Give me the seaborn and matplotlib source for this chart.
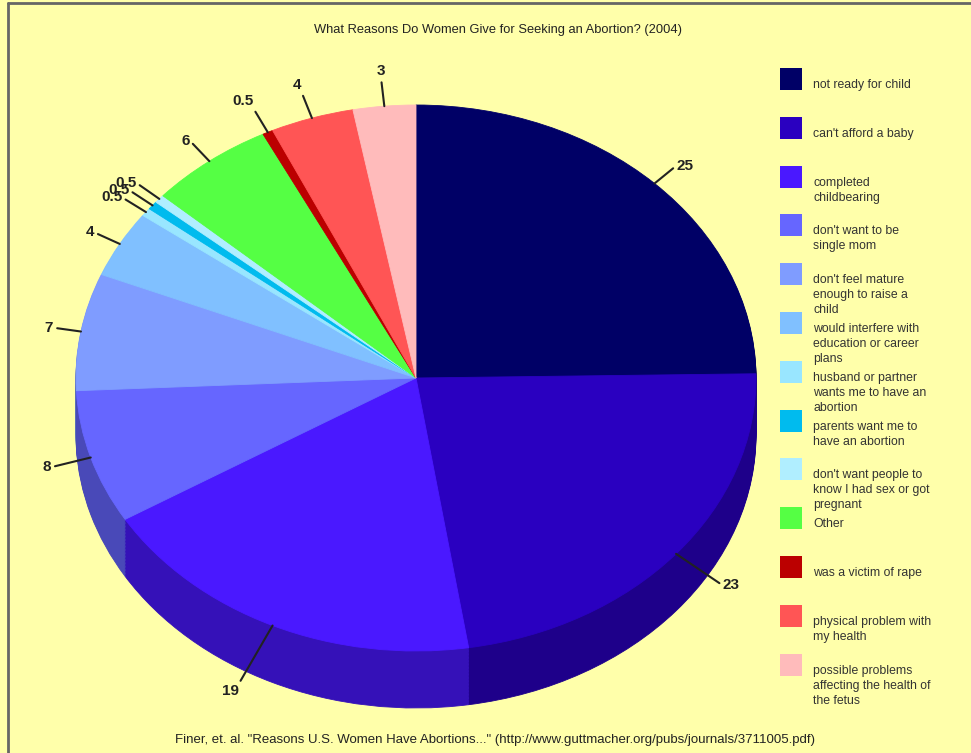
import numpy as np
import matplotlib
matplotlib.use("Agg")
import matplotlib.pyplot as plt
import seaborn as sns
from matplotlib.patches import Rectangle
from matplotlib.colors import to_rgb

# data
reasons = [
    "not ready for child",
    "can't afford a baby",
    "completed\nchildbearing",
    "don't want to be\nsingle mom",
    "don't feel mature\nenough to raise a\nchild",
    "would interfere with\neducation or career\nplans",
    "husband or partner\nwants me to have an\nabortion",
    "parents want me to\nhave an abortion",
    "don't want people to\nknow I had sex or got\npregnant",
    "Other",
    "was a victim of rape",
    "physical problem with\nmy health",
    "possible problems\naffecting the health of\nthe fetus",
]
percents = [25, 23, 19, 8, 7, 4, 0.5, 0.5, 0.5, 6, 0.5, 4, 3]
value_labels = ["25", "23", "19", "8", "7", "4", "0.5", "0.5", "0.5", "6", "0.5", "4", "3"]
slice_colors = [
    "#000066", "#2A00C0", "#4A18FF", "#6666FF", "#7F9CFF", "#80C0FF",
    "#99E6FF", "#00BBEE", "#B0EEFF", "#55FF44", "#BB0000", "#FF5555",
    "#FFBBBB",
]

title = "What Reasons Do Women Give for Seeking an Abortion? (2004)"
source = ('Finer, et. al. "Reasons U.S. Women Have Abortions..." '
          '(http://www.guttmacher.org/pubs/journals/3711005.pdf)')

# layout (pixels)
W, H = 971, 753
BG = "#FFFFAA"
CX, CY = 416, 378
RX, RY = 340, 273
DEPTH = 57

sns.set_style("white")
plt.rcParams["font.family"] = ["Liberation Sans", "DejaVu Sans"]

fig = plt.figure(figsize=(W / 100, H / 100), dpi=100, facecolor=BG)

# overlay axes in pixel coordinates for title, legend, frame
over = fig.add_axes([0, 0, 1, 1])
over.set_xlim(0, W)
over.set_ylim(H, 0)
over.axis("off")
over.plot([8, 8], [2.5, H], color="#666666", lw=2)
over.plot([8, W], [2.5, 2.5], color="#666666", lw=2)
over.text(498, 30, title, ha="center", va="center", fontsize=9.3, color="#222222")
over.text(495, 740, source, ha="center", va="center", fontsize=9.5, color="#222222")

sq, step, top0 = 22, 48.8, 68
for i, (lab, col) in enumerate(zip(reasons, slice_colors)):
    y0 = top0 + i * step
    over.add_patch(Rectangle((780, y0), sq, sq, facecolor=col, edgecolor="none"))
    for k, line in enumerate(lab.split("\n")):
        over.text(813, y0 + sq / 2 + 6 + k * 15, line, ha="left", va="center",
                  fontsize=8.8, color="#333333")

# pie axes: unit circle becomes the ellipse
ax = fig.add_axes([(CX - RX) / W, 1 - (CY + RY) / H, 2 * RX / W, 2 * RY / H])
dark = [tuple(v * 0.72 for v in to_rgb(c)) for c in slice_colors]
d = DEPTH / RY


def draw_layer(colors, off):
    wedges, _ = ax.pie(percents, colors=colors, startangle=90, counterclock=False,
                       center=(0, -off), radius=1)
    for w in wedges:
        w.set_edgecolor(w.get_facecolor())
        w.set_linewidth(0.6)
        w.set_clip_on(False)


for off in np.linspace(d, 0, 40, endpoint=False):
    draw_layer(dark, off)
draw_layer(slice_colors, 0)

ax.set_aspect("auto")
ax.set_xlim(-1, 1)
ax.set_ylim(-1, 1)
ax.axis("off")

# value labels with leader lines
fracs = np.array(percents) / sum(percents)
mids = np.radians(90 - 360 * (np.cumsum(fracs) - fracs / 2))
for val, ang in zip(value_labels, mids):
    c, s = np.cos(ang), np.sin(ang)
    dx, dy = RX * c, RY * s
    n = np.hypot(dx, dy)
    L = 24 + 44 * max(0, -s)
    x1, y1 = c + L * dx / n / RX, s + L * dy / n / RY
    ax.plot([c, x1], [s, y1], color="#222222", lw=1.5, clip_on=False)
    tx, ty = x1 + 4 * dx / n / RX, y1 + 4 * dy / n / RY
    ha = "left" if c > 0.3 else ("right" if c < -0.3 else "center")
    va = "bottom" if s > 0.8 else ("top" if s < -0.8 else "center")
    ax.text(tx, ty, val, ha=ha, va=va, fontsize=11, fontweight="bold", color="#222222")

fig.savefig("out.png", dpi=100, facecolor=BG)
